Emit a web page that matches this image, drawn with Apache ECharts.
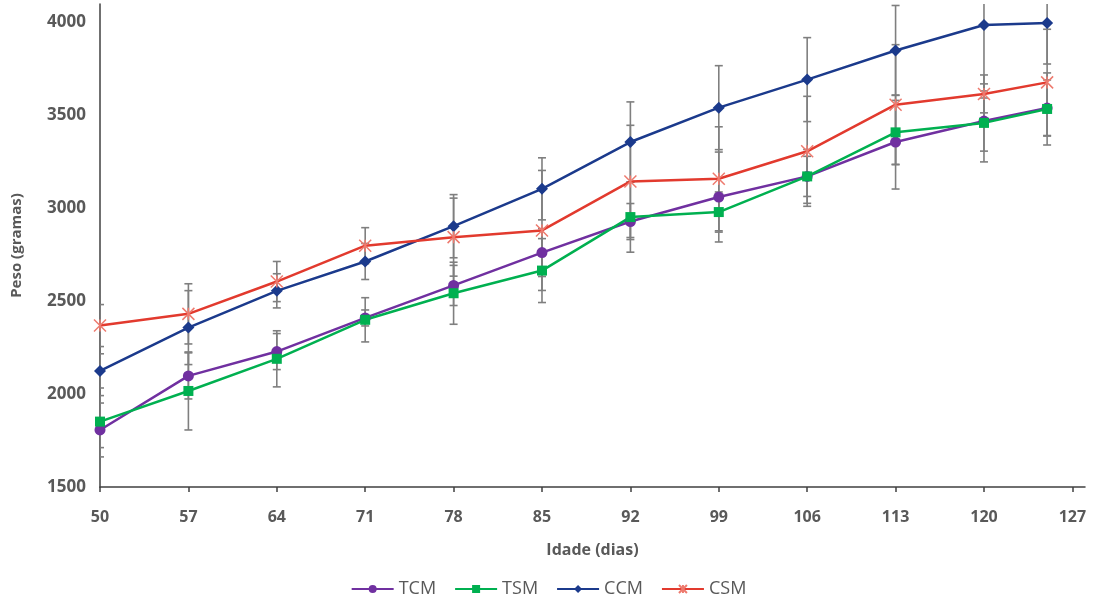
<!DOCTYPE html>
<html>
<head>
<meta charset="utf-8">
<script src="https://cdn.jsdelivr.net/npm/echarts@6/dist/echarts.min.js"></script>
<style>
  html, body { margin: 0; padding: 0; background: #fff; }
  #chart { width: 1097px; height: 605px; }
</style>
</head>
<body>
<div id="chart"></div>
<script>
// idade (dias) e peso medio (gramas) por tratamento
var dias = [50, 57, 64, 71, 78, 85, 92, 99, 106, 113, 120, 125];
var xTicks = [50, 57, 64, 71, 78, 85, 92, 99, 106, 113, 120, 127];
var yTicks = [1500, 2000, 2500, 3000, 3500, 4000];
var nomes = ['TCM', 'TSM', 'CCM', 'CSM'];

var tcm = [1807, 2098, 2229, 2410, 2585, 2762, 2929, 3061, 3172, 3357, 3470, 3540];
var tsm = [1852, 2017, 2190, 2400, 2543, 2665, 2953, 2980, 3172, 3409, 3460, 3535];
var ccm = [2125, 2358, 2556, 2714, 2904, 3105, 3357, 3542, 3693, 3850, 3987, 3998];
var csm = [2369, 2432, 2606, 2799, 2845, 2881, 3145, 3159, 3307, 3558, 3616, 3678];

// desvio (barras de erro)
var tcmErr = [145, 124, 97, 43, 108, 129, 97, 242, 108, 253, 162, 151];
var tsmErr = [140, 210, 151, 119, 167, 172, 189, 108, 145, 172, 210, 194];
var ccmErr = [92, 199, 92, 97, 170, 167, 216, 226, 226, 242, 393, 221];
var csmErr = [113, 162, 108, 97, 210, 323, 302, 280, 296, 323, 102, 286];

var cores = ['#7030a0', '#00b050', '#1b3a8c', '#e23a2e'];
var valores = [tcm, tsm, ccm, csm];
var erros = [tcmErr, tsmErr, ccmErr, csmErr];
var simbolos = ['circle', 'rect', 'diamond', 'path://M0,0L10,10M10,0L0,10M5,0L5,10'];
var tamanhos = [11, 10, 12, 12];

var chart = echarts.init(document.getElementById('chart'));

function pares(v) {
  return dias.map(function (d, i) { return [d, v[i]]; });
}

var series = [];

// barras de erro
valores.forEach(function (v, k) {
  series.push({
    type: 'custom',
    name: nomes[k] + '_err',
    clip: true,
    z: 1,
    silent: true,
    data: dias.map(function (d, i) { return [d, v[i] - erros[k][i], v[i] + erros[k][i]]; }),
    renderItem: function (params, api) {
      var lo = api.coord([api.value(0), api.value(1)]);
      var hi = api.coord([api.value(0), api.value(2)]);
      var w = 4;
      var st = { stroke: '#7f7f7f', lineWidth: 1.6 };
      return {
        type: 'group',
        children: [
          { type: 'line', shape: { x1: lo[0], y1: lo[1], x2: hi[0], y2: hi[1] }, style: st },
          { type: 'line', shape: { x1: lo[0] - w, y1: lo[1], x2: lo[0] + w, y2: lo[1] }, style: st },
          { type: 'line', shape: { x1: hi[0] - w, y1: hi[1], x2: hi[0] + w, y2: hi[1] }, style: st }
        ]
      };
    }
  });
});

valores.forEach(function (v, k) {
  var isStar = k === 3;
  series.push({
    type: 'line',
    name: nomes[k],
    data: pares(v),
    z: 3,
    symbol: simbolos[k],
    symbolSize: tamanhos[k],
    showAllSymbol: true,
    lineStyle: { color: cores[k], width: 2.5 },
    itemStyle: isStar
      ? { color: 'none', borderColor: '#ee7a6e', borderWidth: 1.5 }
      : { color: cores[k], borderColor: cores[k], borderWidth: 0 },
    emphasis: { disabled: true }
  });
});

var option = {
  animation: false,
  grid: { left: 100, right: 12, top: 4, bottom: 118 },
  xAxis: {
    type: 'value',
    min: 50,
    max: 128,
    name: 'Idade (dias)',
    nameLocation: 'middle',
    nameGap: 55,
    nameTextStyle: { color: '#595959', fontSize: 16, fontWeight: 'bold', fontFamily: 'Open Sans' },
    axisLine: { show: true, lineStyle: { color: '#404040', width: 1.5 } },
    axisTick: { show: true, length: 5, inside: false, customValues: xTicks, lineStyle: { color: '#404040', width: 1.5 } },
    axisLabel: { customValues: xTicks, color: '#595959', fontSize: 16, fontWeight: 'bold', fontFamily: 'Open Sans', margin: 22 },
    splitLine: { show: false }
  },
  yAxis: {
    type: 'value',
    min: 1500,
    max: 4100,
    name: 'Peso (gramas)',
    nameLocation: 'middle',
    nameGap: 76,
    nameRotate: 90,
    nameTextStyle: { color: '#595959', fontSize: 15, fontWeight: 'bold', fontFamily: 'Open Sans' },
    axisLine: { show: true, lineStyle: { color: '#404040', width: 1.5 } },
    axisTick: { show: false },
    axisLabel: {
      customValues: yTicks,
      formatter: function (v) { return String(v); },
      color: '#595959', fontSize: 17, fontWeight: 'bold', fontFamily: 'Open Sans', margin: 14
    },
    splitLine: { show: false }
  },
  legend: {
    data: nomes,
    bottom: 2,
    left: 'center',
    itemWidth: 42,
    itemHeight: 10,
    itemGap: 18,
    textStyle: { color: '#595959', fontSize: 18, fontFamily: 'Open Sans' }
  },
  series: series
};

chart.setOption(option);
</script>
</body>
</html>
